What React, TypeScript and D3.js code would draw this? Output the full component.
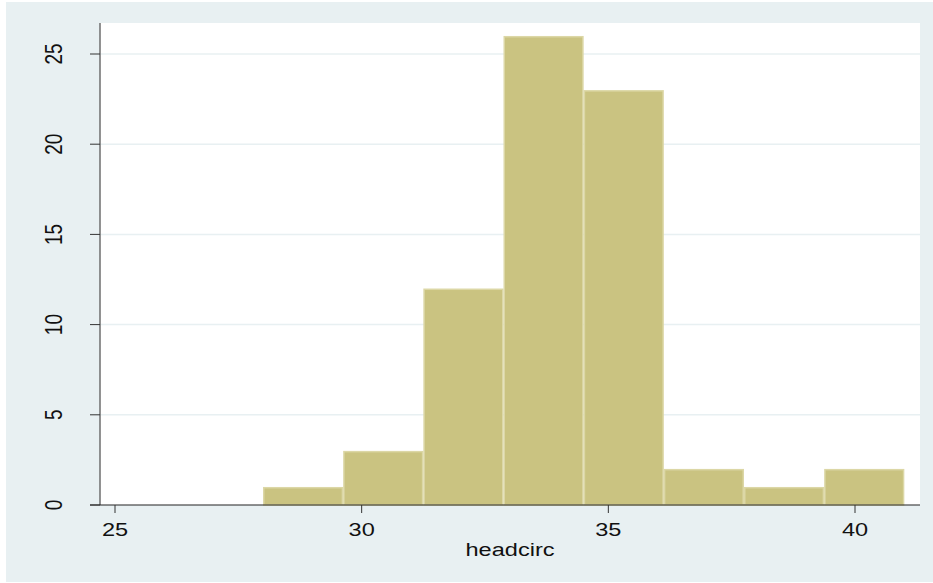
import * as d3 from "d3";

// histogram of headcirc, bins start at 28 with width 1.625
const binStart = 28;
const binWidth = 1.625;
const counts = [1, 3, 12, 26, 23, 2, 1, 2];
const xTicks = [25, 30, 35, 40];
const yTicks = [0, 5, 10, 15, 20, 25];
const xLabel = "headcirc";

export default function App() {
  const W = 933;
  const H = 583;
  const plot = { left: 100, right: 920, top: 23, bottom: 505 };
  const x = d3.scaleLinear().domain([25, 40]).range([115, 855]);
  const y = d3.scaleLinear().domain([0, 25]).range([505, 54]);
  const sx = 1.24; // the picture is a bit wider than tall

  const bins = counts.map((c, i) => ({
    x0: binStart + i * binWidth,
    x1: binStart + (i + 1) * binWidth,
    c,
  }));

  return (
    <svg
      width={W}
      height={H}
      style={{ position: "absolute", left: 0, top: 0, background: "#fff" }}
      fontFamily="Liberation Sans, Arial, sans-serif"
    >
      <rect x={6} y={2} width={W - 6} height={H - 3} fill="#e8f0f2" />
      <rect
        x={plot.left}
        y={plot.top}
        width={plot.right - plot.left}
        height={plot.bottom - plot.top}
        fill="#fff"
      />
      {/* gridlines */}
      <g stroke="#e8f0f2" strokeWidth={1.5}>
        {yTicks
          .filter((t) => t > 0)
          .map((t) => (
            <line key={t} x1={plot.left} x2={plot.right} y1={y(t)} y2={y(t)} />
          ))}
      </g>
      {/* bars */}
      <g fill="#cac381" stroke="#dcd7a6" strokeWidth={1.5}>
        {bins.map((b, i) => (
          <rect
            key={i}
            x={x(b.x0) + 0.75}
            y={y(b.c) + 0.75}
            width={x(b.x1) - x(b.x0) - 1.5}
            height={y(0) - y(b.c) - 0.75}
          />
        ))}
      </g>
      {/* axes */}
      <line x1={plot.left} x2={plot.left} y1={plot.top} y2={plot.bottom} stroke="#6e6e6e" strokeWidth={1.5} />
      <line x1={plot.left - 10} x2={plot.right} y1={plot.bottom} y2={plot.bottom} stroke="#222" strokeWidth={1.2} />
      <g stroke="#333" strokeWidth={1}>
        {yTicks.map((t) => (
          <line key={t} x1={plot.left - 10} x2={plot.left} y1={y(t)} y2={y(t)} />
        ))}
        {xTicks.map((t) => (
          <line key={t} x1={x(t)} x2={x(t)} y1={plot.bottom} y2={plot.bottom + 8} />
        ))}
      </g>
      <g fontSize={19} fill="#111" textAnchor="middle">
        {yTicks.map((t) => (
          <text
            key={t}
            transform={`translate(54,${y(t)}) scale(${sx},1) rotate(-90)`}
            dominantBaseline="central"
          >
            {t}
          </text>
        ))}
        {xTicks.map((t) => (
          <text key={t} transform={`translate(${x(t)},536) scale(${sx},1)`}>
            {t}
          </text>
        ))}
        <text transform={`translate(${(plot.left + plot.right) / 2},556) scale(${sx},1)`}>
          {xLabel}
        </text>
      </g>
    </svg>
  );
}
